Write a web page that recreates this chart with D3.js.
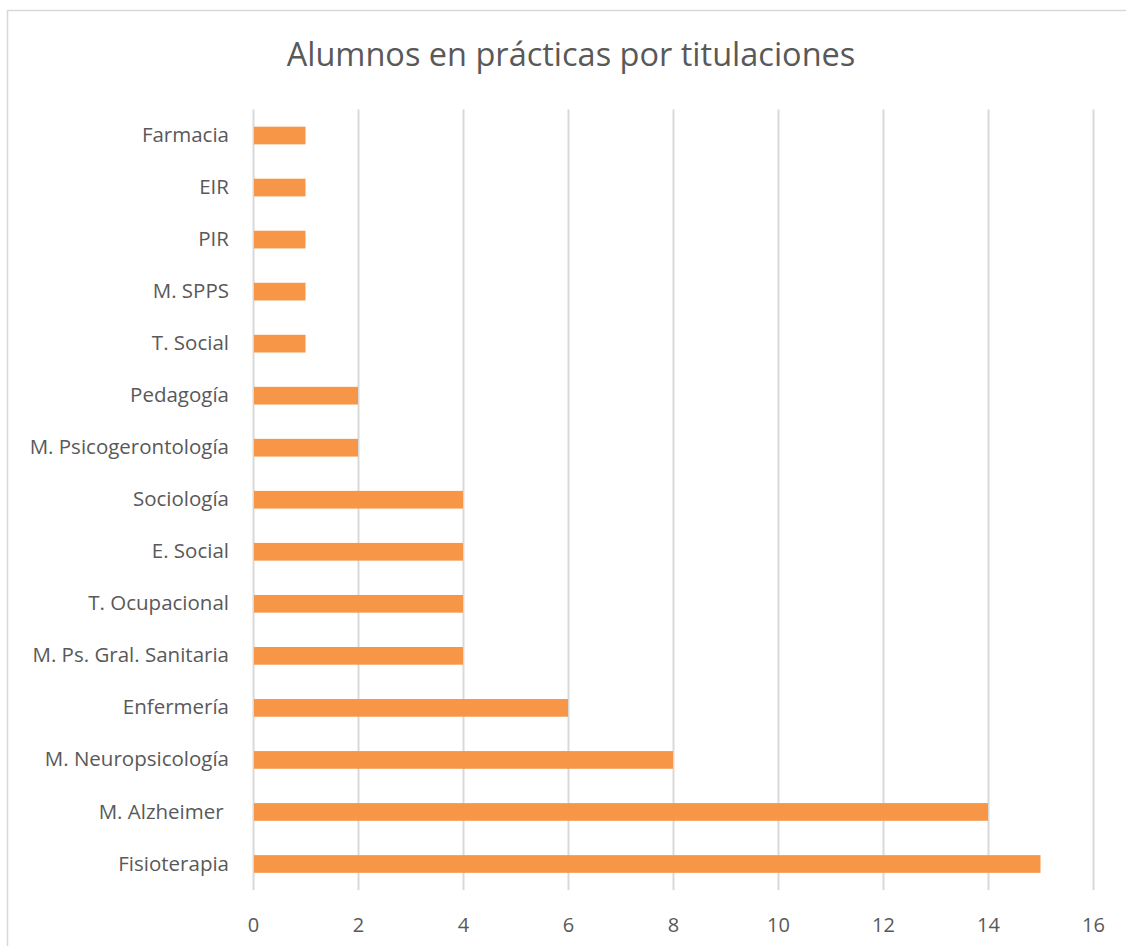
<!DOCTYPE html>
<html>
<head>
<meta charset="utf-8">
<script src="https://cdn.jsdelivr.net/npm/d3@7"></script>
<style>
  body { margin: 0; background: #fff; }
  text { font-family: "Open Sans", "Liberation Sans", sans-serif; fill: #595959; }
</style>
</head>
<body>
<div id="chart"></div>
<script>
const categories = ['Farmacia', 'EIR', 'PIR', 'M. SPPS', 'T. Social', 'Pedagogía', 'M. Psicogerontología',
  'Sociología', 'E. Social', 'T. Ocupacional', 'M. Ps. Gral. Sanitaria', 'Enfermería',
  'M. Neuropsicología', 'M. Alzheimer ', 'Fisioterapia']
const values = [1, 1, 1, 1, 1, 2, 2, 4, 4, 4, 4, 6, 8, 14, 15]
const xticks = [0, 2, 4, 6, 8, 10, 12, 14, 16]
const title = 'Alumnos en prácticas por titulaciones'

const W = 1126, H = 946
const margin = {top: 109.5, left: 253, right: 32, bottom: 56}

const svg = d3.select('#chart').append('svg')
  .attr('width', W)
  .attr('height', H)

// chart frame
svg.append('rect')
  .attr('x', 7.5).attr('y', 10.5)
  .attr('width', W).attr('height', H)
  .attr('fill', 'none')
  .attr('stroke', '#d9d9d9')
  .attr('stroke-width', 1.5)

svg.append('text')
  .attr('x', 571).attr('y', 66)
  .attr('text-anchor', 'middle')
  .style('font-size', '32.5px')
  .text(title)

const x = d3.scaleLinear()
  .domain([0, 16])
  .range([margin.left, W - margin.right - 1])

const y = d3.scaleBand()
  .domain(categories)
  .range([margin.top, H - margin.bottom])
  .paddingInner(0.66)
  .paddingOuter(0.33)

// grid
const grid = svg.append('g')
  .attr('transform', 'translate(0,' + margin.top + ')')
  .call(d3.axisTop(x).tickValues(xticks).tickSize(-(H - margin.bottom - margin.top)).tickFormat(''))
grid.select('.domain').remove()
grid.selectAll('.tick line').attr('stroke', '#d9d9d9').attr('stroke-width', 2)

// bars
svg.append('g').selectAll('rect')
  .data(values)
  .join('rect')
  .attr('x', x(0) + 1)
  .attr('y', (d, i) => y(categories[i]))
  .attr('width', d => x(d) - x(0) - 1)
  .attr('height', y.bandwidth())
  .attr('fill', '#f79646')

// x axis labels
const xa = svg.append('g')
  .attr('transform', 'translate(0,' + (H - margin.bottom) + ')')
  .call(d3.axisBottom(x).tickValues(xticks).tickSize(0).tickPadding(28))
xa.select('.domain').remove()
xa.selectAll('text').style('font-size', '20px').attr('fill', '#595959')

// y axis labels
const ya = svg.append('g')
  .attr('transform', 'translate(' + (margin.left - 24) + ',0)')
  .call(d3.axisLeft(y).tickSize(0).tickPadding(0))
ya.select('.domain').remove()
ya.selectAll('text').style('font-size', '20.5px').style('white-space', 'pre').attr('fill', '#595959')
</script>
</body>
</html>
